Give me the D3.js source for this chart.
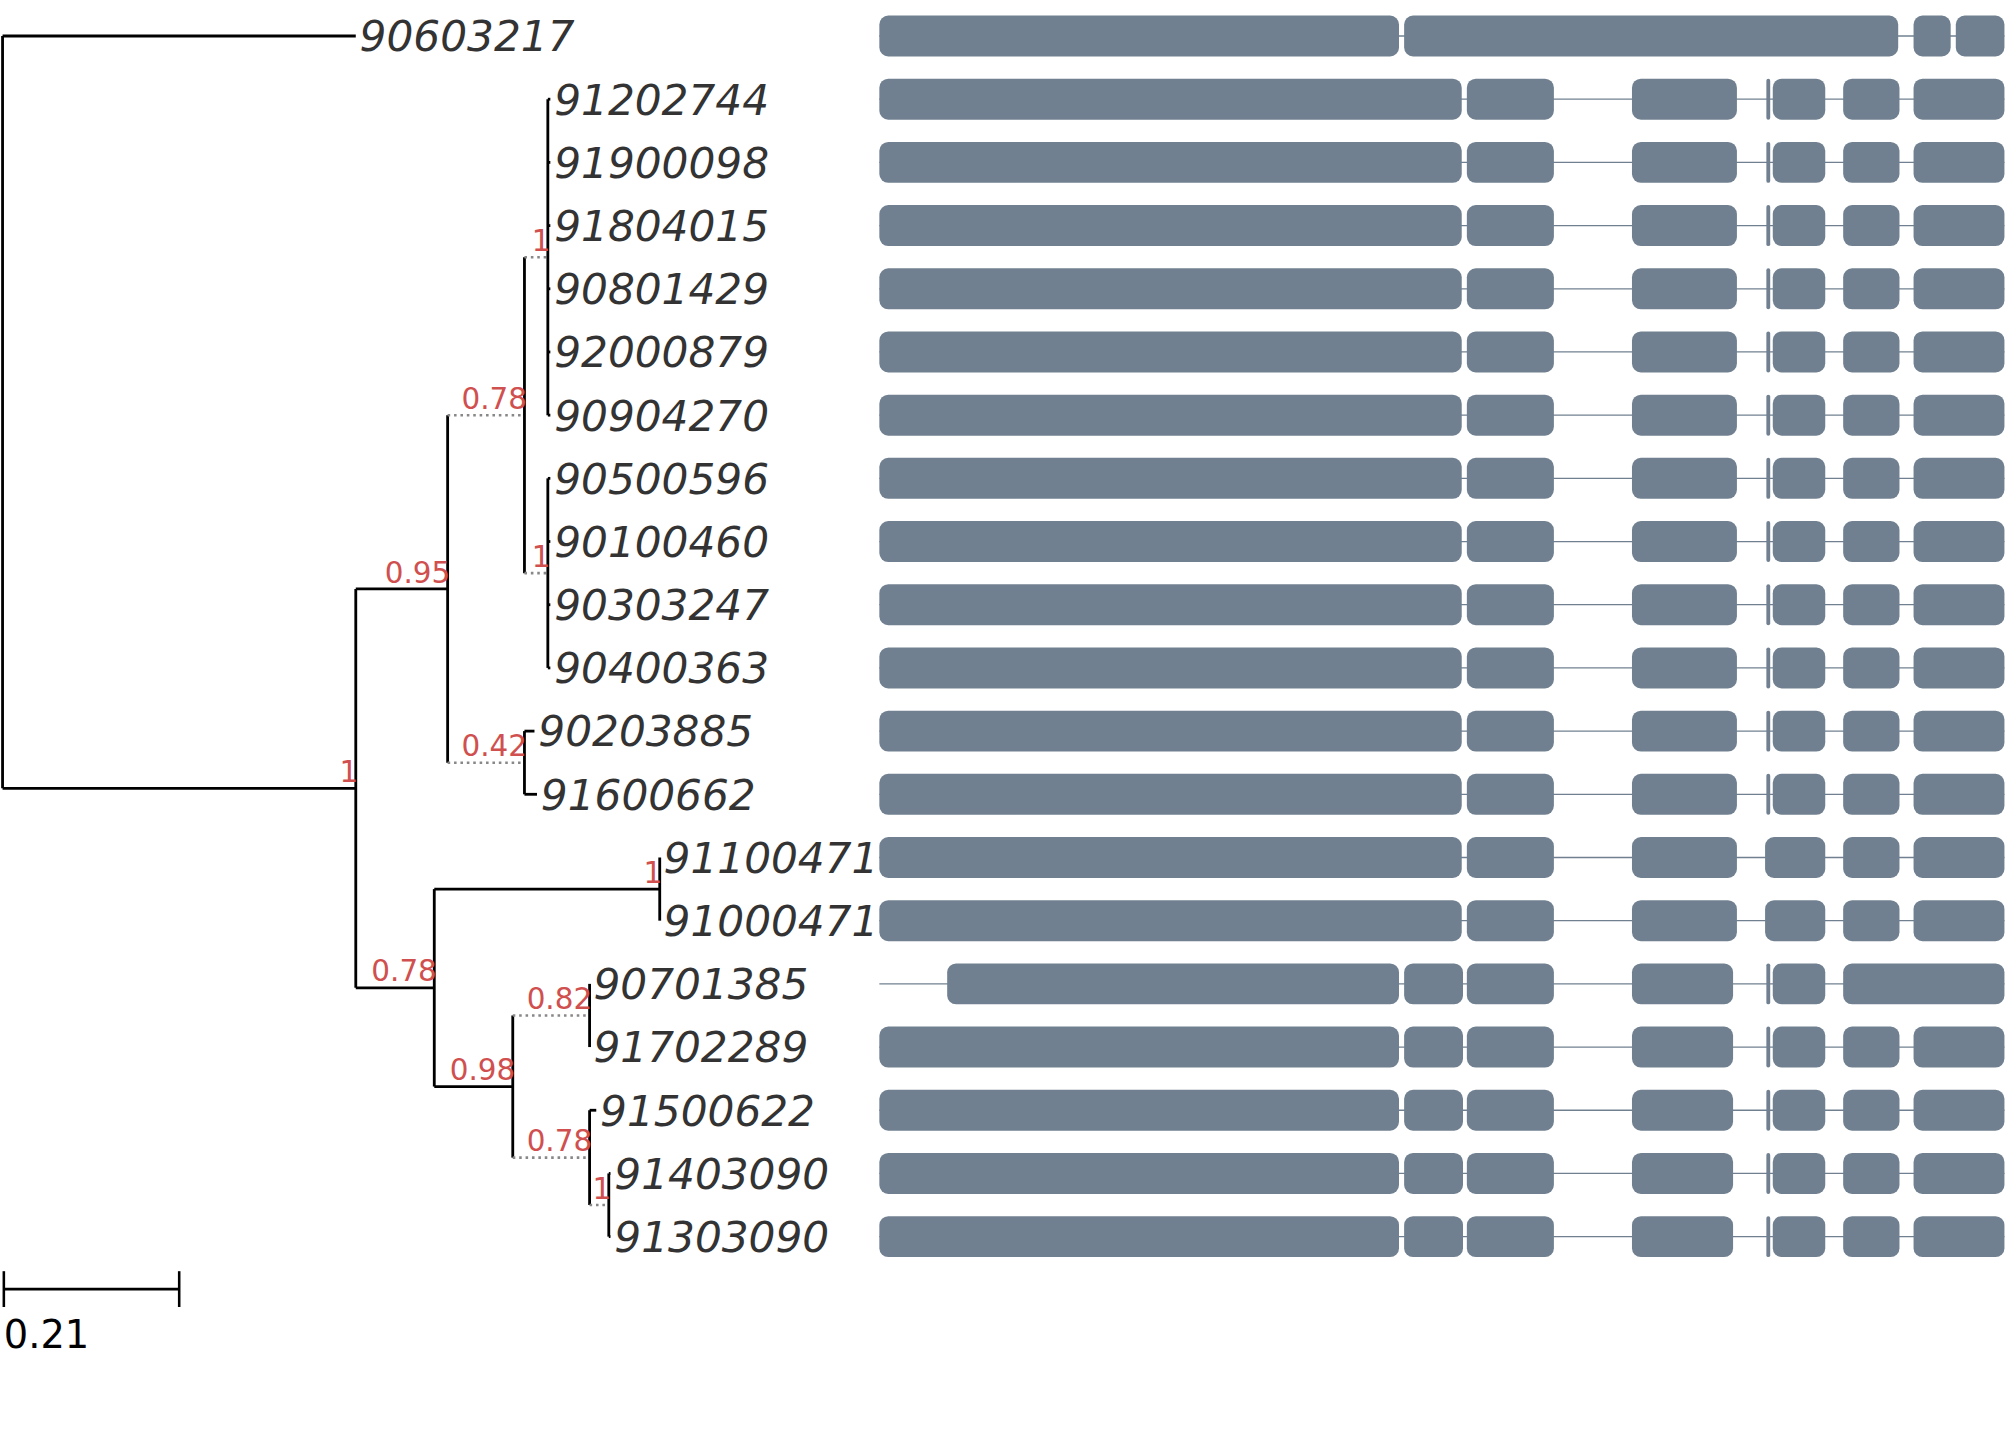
<!DOCTYPE html>
<html><head><meta charset="utf-8">
<script src="https://cdn.jsdelivr.net/npm/d3@7"></script>
<style>body{margin:0;background:#fff}</style></head>
<body><svg id="c" width="2007" height="1448" viewBox="0 0 1568 1131"></svg>
<script>
// Leaf order (top to bottom)
const leaves = ["90603217","91202744","91900098","91804015","90801429","92000879","90904270",
 "90500596","90100460","90303247","90400363","90203885","91600662","91100471","91000471",
 "90701385","91702289","91500622","91403090","91303090"];
// Tree: [name/support, branch length, dotted, children]
const tree = {len:0, children:[
  {name:"90603217", len:0.423},
  {support:"1", len:0.423, children:[
    {support:"0.95", len:0.110, children:[
      {support:"0.78", len:0.092, dotted:true, children:[
        {support:"1", len:0.028, dotted:true, children:["91202744","91900098","91804015","90801429","92000879","90904270"].map(n=>({name:n,len:0.003}))},
        {support:"1", len:0.028, dotted:true, children:["90500596","90100460","90303247","90400363"].map(n=>({name:n,len:0.003}))}
      ]},
      {support:"0.42", len:0.092, dotted:true, children:[{name:"90203885",len:0.012},{name:"91600662",len:0.015}]}
    ]},
    {support:"0.78", len:0.094, children:[
      {support:"1", len:0.270, children:[{name:"91100471",len:0.0},{name:"91000471",len:0.0}]},
      {support:"0.98", len:0.094, children:[
        {support:"0.82", len:0.092, dotted:true, children:[{name:"90701385",len:0.0},{name:"91702289",len:0.0}]},
        {support:"0.78", len:0.092, dotted:true, children:[
          {name:"91500622", len:0.008},
          {support:"1", len:0.023, dotted:true, children:[{name:"91403090",len:0.002},{name:"91303090",len:0.002}]}
        ]}
      ]}
    ]}
  ]}
]};
// Gene structure segments (positions)
const segTypical=[[0,455],[459,527],[588,670],[693,696],[698,739],[753,797],[808,879]];
const segB=[[0,455],[459,527],[588,670],[692,739],[753,797],[808,879]];
const segC=[[0,406],[410,456],[459,527],[588,667],[693,696],[698,739],[753,797],[808,879]];
const segments = [
 [[0,406],[410,796],[808,837],[841,879]],
 segTypical,segTypical,segTypical,segTypical,segTypical,segTypical,
 segTypical,segTypical,segTypical,segTypical,segTypical,segTypical,
 segB,segB,
 [[53,406],[410,456],[459,527],[588,667],[693,696],[698,739],[753,879]],
 segC,segC,segC,segC];
const geneLength = 879;
const scaleBar = 0.21;

const svg=d3.select("#c");
const y=d3.scaleLinear().domain([0,leaves.length-1]).range([28,966]);
const x=d3.scaleLinear().domain([0,0.21]).range([2,139]);
const gx=d3.scaleLinear().domain([0,geneLength]).range([687,1566]);

// layout tree
function layout(n,depth){
  n.x=depth+n.len;
  if(n.children){n.children.forEach(c=>layout(c,n.x));
    n.y=(n.children[0].y+n.children[n.children.length-1].y)/2;}
  else n.y=y(leaves.indexOf(n.name));
}
layout(tree,0);
const tg=svg.append("g");
function draw(n,px){
  if(px!==undefined){
    tg.append("line").attr("x1",x(px)).attr("x2",x(n.x)).attr("y1",n.y).attr("y2",n.y)
      .attr("stroke",n.dotted?"#888":"#000").attr("stroke-width",n.dotted?2:2.2)
      .attr("stroke-dasharray",n.dotted?"2,3":null);
  }
  if(n.children){
    const c=n.children;
    tg.append("line").attr("x1",x(n.x)).attr("x2",x(n.x)).attr("y1",c[0].y).attr("y2",c[c.length-1].y)
      .attr("stroke","#000").attr("stroke-width",2.2);
    c.forEach(ch=>draw(ch,n.x));
    if(n.support) tg.append("text").attr("x",x(n.x)+2).attr("y",n.y-5).attr("text-anchor","end")
      .attr("font-family","DejaVu Sans").attr("font-size",23).attr("fill","#d0504f").text(n.support);
  } else {
    tg.append("text").attr("x",x(n.x)+3).attr("y",n.y+12).attr("font-family","DejaVu Sans")
      .attr("font-style","italic").attr("font-size",33).attr("fill","#333").text(n.name);
  }
}
draw(tree);

// scale bar
svg.append("line").attr("x1",x(0)+1).attr("x2",x(scaleBar)+1).attr("y1",1007).attr("y2",1007).attr("stroke","#000").attr("stroke-width",2);
[0,scaleBar].forEach(v=>svg.append("line").attr("x1",x(v)+1).attr("x2",x(v)+1).attr("y1",993).attr("y2",1021).attr("stroke","#000").attr("stroke-width",2));
svg.append("text").attr("x",3).attr("y",1053).attr("font-family","DejaVu Sans").attr("font-size",30).text(scaleBar);

// genes
const gg=svg.append("g");
leaves.forEach((l,i)=>{
  gg.append("line").attr("x1",gx(0)).attr("x2",gx(geneLength)).attr("y1",y(i)).attr("y2",y(i)).attr("stroke","#708090").attr("stroke-width",1);
  gg.selectAll(null).data(segments[i]).enter().append("rect")
    .attr("x",d=>gx(d[0])).attr("width",d=>gx(d[1])-gx(d[0])).attr("y",y(i)-16).attr("height",32)
    .attr("rx",d=>Math.min(7,(gx(d[1])-gx(d[0]))/2)).attr("fill","#708090");
});
</script></body></html>
